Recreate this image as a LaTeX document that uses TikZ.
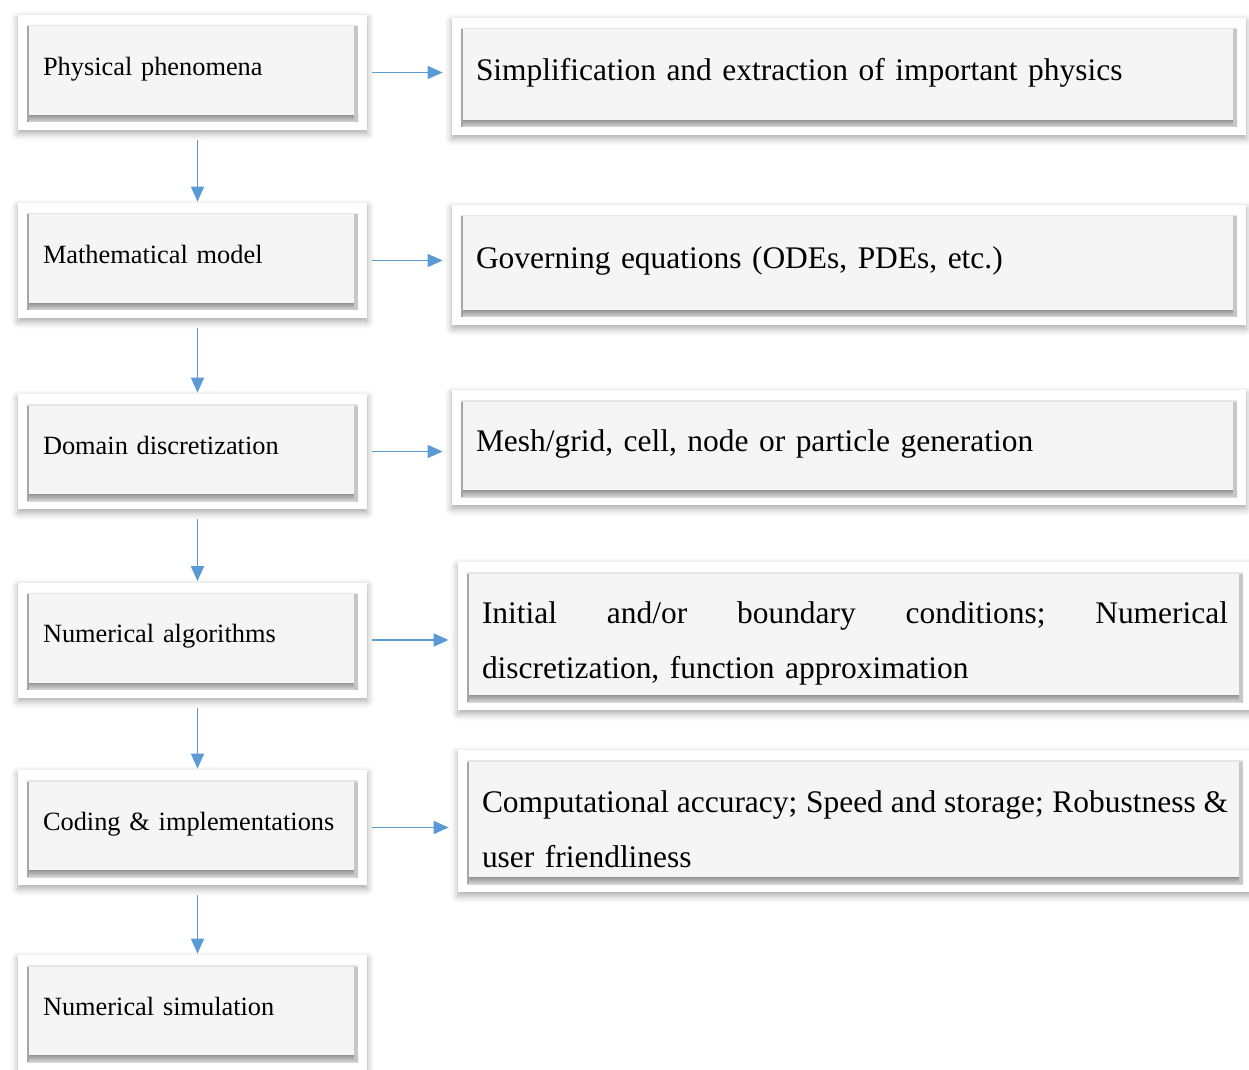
\documentclass[tikz,border=0pt]{standalone}
\usepackage{fontspec}
\setmainfont{Liberation Serif}
\usetikzlibrary{arrows.meta,shadows.blur}
\definecolor{flowblue}{HTML}{5B9BD5}
\definecolor{panel}{HTML}{F5F5F5}
% bevelled face inside each frame
\newcommand{\bevelface}{%
  \coordinate (bsw) at ([shift={(0.18cm,0.16cm)}]path picture bounding box.south west);
  \coordinate (bne) at ([shift={(-0.18cm,-0.2cm)}]path picture bounding box.north east);
  \fill[panel] (bsw) rectangle (bne);
  \shade[top color=black!40, bottom color=black!15] (bsw) rectangle ([yshift=0.13cm]bsw -| bne);
  \fill[black!35] (bsw) rectangle ([xshift=0.04cm]bsw |- bne);
  \fill[black!22] ([xshift=-0.09cm]bne |- bsw) rectangle (bne);
  \fill[black!10] ([yshift=-0.03cm]bsw |- bne) rectangle (bne);
}
\newcommand{\spreadline}[1]{\hbox to \hsize{\spaceskip=0.2em plus 0.2em minus 0.05em #1}}
\begin{document}
\begin{tikzpicture}[
    frame/.style={fill=white, path picture={\bevelface},
      blur shadow={shadow xshift=0pt, shadow yshift=-0.07cm, shadow blur radius=0.14cm, shadow opacity=35}},
    stage/.style={frame, minimum width=6.98cm, minimum height=2.3cm, text width=5.98cm,
      inner xsep=0.5cm, align=left, text depth=0.26cm, font=\fontsize{15}{18}\selectfont},
    detail/.style={frame, minimum width=15.88cm, text width=14.92cm, inner xsep=0.46cm,
      align=left, text depth=0.29cm, font=\fontsize{17.9}{31.3}\selectfont},
    twoline/.style={text depth=, text height=0.75cm},
    flow/.style={draw=flowblue, line width=0.9pt, -{Triangle[length=0.3cm,width=0.26cm]}}]
  \useasboundingbox (0,0) rectangle (24.98,-21.4);
  % left column
  \node[stage] (phys) at (3.85,-1.45) {Physical phenomena};
  \node[stage] (math) at (3.85,-5.21) {Mathematical model};
  \node[stage] (domain) at (3.85,-9.03) {Domain discretization};
  \node[stage] (algo) at (3.85,-12.80) {Numerical algorithms};
  \node[stage] (code) at (3.85,-16.55) {Coding \& implementations};
  \node[stage] (sim) at (3.85,-20.25) {Numerical simulation};
  % right column
  \node[detail, minimum height=2.34cm] (simp) at (16.98,-1.53) {Simplification and extraction of important physics};
  \node[detail, minimum height=2.4cm] (gov) at (16.98,-5.30) {Governing equations (ODEs, PDEs, etc.)};
  \node[detail, minimum height=2.3cm] (mesh) at (16.98,-8.95) {Mesh/grid, cell, node or particle generation};
  \node[detail, twoline, minimum height=2.96cm] (cond) at (17.10,-12.72)
    {\spreadline{Initial\hfill and/or\hfill boundary\hfill conditions;\hfill Numerical}\\discretization, function approximation};
  \node[detail, twoline, minimum height=2.84cm] (acc) at (17.10,-16.42)
    {\spreadline{Computational accuracy; Speed and storage; Robustness \&}\\user friendliness};
  % arrows
  \foreach \a/\b in {phys/math, math/domain, domain/algo, algo/code, code/sim}
    \draw[flow, shorten <=0.2cm, shorten >=0.02cm] ([xshift=0.1cm]\a.south) -- ([xshift=0.1cm]\b.north);
  \foreach \a/\b in {phys/simp, math/gov, domain/mesh, algo/cond, code/acc}
    \draw[flow, shorten <=0.1cm, shorten >=0.18cm] (\a.east) -- (\b.west |- \a.east);
\end{tikzpicture}
\end{document}
